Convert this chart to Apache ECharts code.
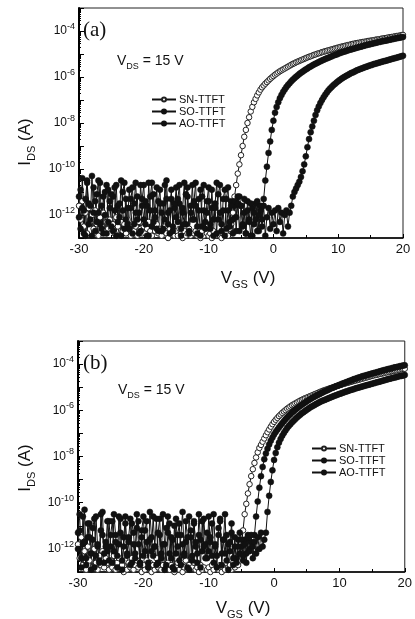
<!DOCTYPE html>
<html>
<head>
<meta charset="utf-8">
<script src="https://cdn.jsdelivr.net/npm/echarts@6/dist/echarts.min.js"></script>
<style>
  html, body { margin: 0; padding: 0; background: #fff; }
  #chart { width: 415px; height: 619px; }
</style>
</head>
<body>
<div id="chart"></div>
<script>
// gate sweep, V (0.25 V steps)
const VGS = [
  -30,-29.75,-29.5,-29.25,-29,-28.75,-28.5,-28.25,-28,-27.75,-27.5,-27.25,-27,-26.75,-26.5,-26.25,-26,-25.75,-25.5,-25.25,
  -25,-24.75,-24.5,-24.25,-24,-23.75,-23.5,-23.25,-23,-22.75,-22.5,-22.25,-22,-21.75,-21.5,-21.25,-21,-20.75,-20.5,-20.25,
  -20,-19.75,-19.5,-19.25,-19,-18.75,-18.5,-18.25,-18,-17.75,-17.5,-17.25,-17,-16.75,-16.5,-16.25,-16,-15.75,-15.5,-15.25,
  -15,-14.75,-14.5,-14.25,-14,-13.75,-13.5,-13.25,-13,-12.75,-12.5,-12.25,-12,-11.75,-11.5,-11.25,-11,-10.75,-10.5,-10.25,
  -10,-9.75,-9.5,-9.25,-9,-8.75,-8.5,-8.25,-8,-7.75,-7.5,-7.25,-7,-6.75,-6.5,-6.25,-6,-5.75,-5.5,-5.25,
  -5,-4.75,-4.5,-4.25,-4,-3.75,-3.5,-3.25,-3,-2.75,-2.5,-2.25,-2,-1.75,-1.5,-1.25,-1,-0.75,-0.5,-0.25,
  0,0.25,0.5,0.75,1,1.25,1.5,1.75,2,2.25,2.5,2.75,3,3.25,3.5,3.75,4,4.25,4.5,4.75,
  5,5.25,5.5,5.75,6,6.25,6.5,6.75,7,7.25,7.5,7.75,8,8.25,8.5,8.75,9,9.25,9.5,9.75,
  10,10.25,10.5,10.75,11,11.25,11.5,11.75,12,12.25,12.5,12.75,13,13.25,13.5,13.75,14,14.25,14.5,14.75,
  15,15.25,15.5,15.75,16,16.25,16.5,16.75,17,17.25,17.5,17.75,18,18.25,18.5,18.75,19,19.25,19.5,19.75,
  20
];

// log10(IDS / A), panel (a)
const SN_A = [
  -11.6,-12.2,-11.4,-12.5,-11.9,-12.8,-11.7,-12.3,-12.0,-12.6,-11.8,-12.4,-12.9,-12.1,-12.5,-11.9,-12.7,-12.3,-12.6,-12.2,
  -12.6,-12.4,-12.8,-12.1,-12.5,-12.9,-12.3,-12.7,-12.4,-12.8,-12.2,-12.6,-12.9,-12.4,-12.7,-12.5,-12.9,-12.3,-12.6,-12.8,
  -12.5,-12.8,-12.6,-12.3,-12.7,-12.9,-12.5,-12.7,-12.4,-12.8,-12.6,-12.9,-12.7,-12.5,-12.8,-13.0,-12.6,-12.8,-12.7,-12.9,
  -12.7,-12.9,-12.6,-12.8,-13.0,-12.7,-12.9,-12.8,-12.6,-12.9,-13.1,-12.8,-12.7,-12.9,-12.8,-13.0,-12.7,-12.9,-13.1,-12.8,
  -12.9,-12.8,-13.0,-12.7,-12.9,-13.1,-12.8,-12.9,-13.0,-12.8,-12.9,-12.7,-12.9,-12.6,-12.4,-11.9,-11.2,-10.7,-10.2,-9.8,
  -9.4,-9.0,-8.6,-8.3,-8.0,-7.75,-7.5,-7.3,-7.1,-6.95,-6.8,-6.67,-6.55,-6.45,-6.37,-6.29,-6.22,-6.15,-6.08,-6.02,
  -5.96,-5.9,-5.85,-5.8,-5.75,-5.71,-5.67,-5.63,-5.59,-5.55,-5.51,-5.47,-5.43,-5.4,-5.36,-5.33,-5.3,-5.27,-5.24,-5.21,
  -5.18,-5.15,-5.12,-5.10,-5.07,-5.04,-5.02,-4.99,-4.97,-4.95,-4.92,-4.90,-4.88,-4.86,-4.84,-4.82,-4.80,-4.78,-4.76,-4.74,
  -4.72,-4.70,-4.68,-4.67,-4.65,-4.63,-4.61,-4.60,-4.58,-4.56,-4.55,-4.53,-4.52,-4.51,-4.49,-4.48,-4.47,-4.46,-4.44,-4.43,
  -4.42,-4.41,-4.40,-4.38,-4.37,-4.36,-4.35,-4.33,-4.32,-4.31,-4.30,-4.28,-4.27,-4.26,-4.25,-4.23,-4.22,-4.21,-4.20,-4.18,
  -4.17
];
const SO_A = [
  -11.2,-12.6,-10.4,-11.8,-12.9,-10.6,-11.5,-12.2,-10.3,-11.9,-12.7,-11.1,-10.5,-12.4,-11.6,-12.8,-11.0,-10.7,-12.3,-11.4,
  -12.5,-11.2,-10.8,-12.9,-11.6,-12.1,-10.5,-11.8,-12.6,-11.3,-12.4,-10.9,-11.7,-12.8,-11.5,-10.6,-12.2,-11.9,-12.7,-11.3,
  -10.7,-12.4,-11.6,-12.9,-11.2,-10.6,-12.3,-11.8,-12.6,-11.4,-10.9,-12.7,-11.5,-12.2,-10.5,-11.9,-12.8,-11.3,-12.5,-11.7,
  -10.8,-12.3,-11.5,-12.9,-11.7,-10.6,-12.4,-11.2,-12.7,-11.9,-10.7,-12.2,-11.6,-12.8,-11.3,-10.9,-12.5,-11.8,-12.6,-11.4,
  -10.8,-12.4,-11.7,-12.9,-11.5,-10.6,-12.2,-11.9,-12.7,-11.3,-10.9,-12.6,-11.8,-12.3,-11.4,-12.8,-11.6,-12.1,-11.2,-12.7,
  -11.6,-12.5,-11.9,-12.8,-11.4,-12.2,-12.9,-11.7,-12.4,-11.5,-12.7,-12.0,-11.6,-12.2,-11.3,-10.5,-9.9,-9.3,-8.8,-8.3,
  -7.9,-7.55,-7.3,-7.1,-6.92,-6.78,-6.65,-6.54,-6.44,-6.35,-6.27,-6.19,-6.12,-6.05,-5.99,-5.93,-5.87,-5.82,-5.77,-5.72,
  -5.67,-5.63,-5.58,-5.54,-5.50,-5.46,-5.42,-5.39,-5.35,-5.32,-5.28,-5.25,-5.22,-5.19,-5.16,-5.13,-5.10,-5.07,-5.04,-5.02,
  -4.99,-4.96,-4.94,-4.91,-4.89,-4.87,-4.84,-4.82,-4.80,-4.78,-4.76,-4.74,-4.72,-4.70,-4.68,-4.66,-4.64,-4.62,-4.60,-4.59,
  -4.57,-4.55,-4.53,-4.52,-4.50,-4.48,-4.47,-4.45,-4.44,-4.42,-4.41,-4.39,-4.38,-4.36,-4.35,-4.33,-4.32,-4.30,-4.29,-4.27,
  -4.26
];
const AO_A = [
  -12.1,-10.9,-11.7,-12.8,-11.3,-10.5,-12.4,-11.6,-12.9,-10.8,-11.4,-12.3,-11.9,-10.6,-12.6,-11.2,-12.0,-12.8,-10.9,-11.7,
  -11.1,-12.7,-11.8,-10.7,-12.3,-11.5,-12.9,-11.0,-10.6,-12.2,-11.7,-12.6,-11.3,-10.8,-12.4,-11.9,-11.2,-12.8,-10.7,-11.6,
  -12.2,-11.4,-12.9,-10.6,-11.8,-12.5,-11.1,-12.1,-10.8,-12.7,-11.5,-11.9,-12.6,-10.7,-11.3,-12.4,-11.8,-10.9,-12.7,-11.5,
  -12.1,-11.3,-10.7,-12.6,-11.9,-12.4,-11.1,-10.8,-12.8,-11.6,-12.2,-11.4,-10.6,-12.5,-11.8,-12.9,-11.2,-10.7,-12.3,-11.9,
  -11.4,-12.6,-10.9,-12.2,-11.7,-12.8,-11.1,-10.7,-12.4,-11.8,-12.9,-11.3,-10.8,-12.5,-11.6,-12.2,-11.4,-12.7,-11.5,-11.2,
  -11.6,-12.4,-11.3,-12.8,-11.8,-12.3,-11.5,-12.9,-11.9,-12.2,-11.4,-12.7,-11.8,-12.5,-11.6,-12.9,-12.1,-11.7,-12.6,-11.9,
  -12.4,-11.8,-12.7,-11.7,-12.3,-11.9,-12.8,-12.0,-11.8,-12.5,-11.9,-11.6,-11.2,-11.0,-10.85,-10.7,-10.55,-10.35,-10.1,-9.8,
  -9.45,-9.05,-8.7,-8.4,-8.15,-7.9,-7.65,-7.45,-7.28,-7.13,-7.0,-6.88,-6.77,-6.67,-6.58,-6.5,-6.43,-6.36,-6.3,-6.24,
  -6.18,-6.13,-6.08,-6.03,-5.99,-5.95,-5.91,-5.87,-5.83,-5.8,-5.77,-5.73,-5.70,-5.67,-5.64,-5.62,-5.59,-5.56,-5.54,-5.51,
  -5.49,-5.47,-5.44,-5.42,-5.40,-5.38,-5.36,-5.34,-5.32,-5.30,-5.28,-5.26,-5.24,-5.22,-5.20,-5.18,-5.16,-5.14,-5.12,-5.10,
  -5.08
];

// log10(IDS / A), panel (b)
const SN_B = [
  -11.8,-12.4,-11.5,-12.7,-12.1,-12.9,-11.9,-12.5,-12.2,-12.8,-12.0,-12.6,-12.9,-12.3,-12.7,-12.1,-12.8,-12.4,-12.6,-12.9,
  -12.5,-12.8,-12.3,-12.9,-12.6,-12.4,-12.8,-12.7,-13.0,-12.5,-12.9,-12.6,-12.8,-12.4,-12.9,-12.7,-12.5,-12.8,-12.6,-13.0,
  -12.7,-12.9,-12.5,-12.8,-12.6,-13.0,-12.7,-12.9,-12.4,-12.8,-12.6,-12.9,-12.7,-13.1,-12.8,-12.6,-12.9,-12.7,-12.8,-13.0,
  -12.8,-12.6,-12.9,-12.7,-13.0,-12.8,-12.5,-12.9,-12.7,-13.1,-12.8,-12.6,-12.9,-12.8,-13.0,-12.7,-12.9,-12.8,-13.1,-12.9,
  -12.8,-13.0,-12.7,-12.9,-13.1,-12.8,-12.9,-12.7,-13.0,-12.8,-12.9,-13.1,-12.8,-12.7,-12.9,-12.6,-12.8,-12.4,-12.7,-12.2,
  -11.9,-11.2,-10.5,-10.05,-9.6,-9.2,-8.85,-8.55,-8.28,-8.04,-7.82,-7.63,-7.5,-7.36,-7.22,-7.08,-6.95,-6.83,-6.71,-6.6,
  -6.5,-6.41,-6.33,-6.25,-6.18,-6.11,-6.05,-5.99,-5.93,-5.88,-5.83,-5.78,-5.74,-5.70,-5.66,-5.62,-5.58,-5.55,-5.51,-5.48,
  -5.45,-5.42,-5.39,-5.36,-5.33,-5.30,-5.27,-5.24,-5.21,-5.18,-5.15,-5.13,-5.10,-5.08,-5.05,-5.03,-5.01,-4.98,-4.96,-4.94,
  -4.92,-4.90,-4.87,-4.85,-4.83,-4.81,-4.79,-4.77,-4.75,-4.73,-4.71,-4.69,-4.67,-4.65,-4.63,-4.61,-4.59,-4.57,-4.55,-4.53,
  -4.51,-4.49,-4.47,-4.46,-4.44,-4.42,-4.41,-4.39,-4.37,-4.36,-4.34,-4.33,-4.31,-4.30,-4.28,-4.27,-4.25,-4.24,-4.22,-4.21,
  -4.20
];
const SO_B = [
  -11.3,-10.5,-12.4,-11.8,-10.3,-12.7,-11.5,-10.9,-12.2,-11.6,-12.8,-10.6,-11.9,-12.5,-11.2,-10.4,-12.6,-11.7,-12.1,-10.8,
  -11.9,-12.6,-10.5,-11.4,-12.3,-11.8,-10.7,-12.9,-11.5,-10.6,-12.2,-11.7,-12.7,-10.9,-11.3,-12.4,-10.5,-11.8,-12.6,-11.2,
  -10.6,-12.1,-11.7,-12.8,-10.4,-11.5,-12.3,-11.9,-10.7,-12.6,-11.4,-12.2,-10.5,-11.8,-12.7,-11.3,-10.9,-12.4,-11.6,-12.9,
  -10.7,-11.9,-12.5,-11.4,-10.4,-12.2,-11.7,-12.8,-10.6,-11.5,-12.3,-10.8,-11.9,-12.6,-10.5,-11.6,-12.1,-10.7,-11.8,-12.4,
  -10.6,-11.7,-12.3,-10.5,-11.9,-12.8,-11.4,-10.7,-12.2,-11.6,-10.5,-12.5,-11.8,-12.1,-11.3,-12.7,-11.9,-12.4,-11.6,-12.2,
  -11.9,-12.5,-11.6,-12.2,-11.4,-12.0,-11.7,-11.9,-11.4,-10.6,-9.95,-9.35,-8.85,-8.45,-8.12,-7.87,-7.66,-7.48,-7.32,-7.18,
  -7.05,-6.94,-6.84,-6.74,-6.65,-6.56,-6.47,-6.39,-6.31,-6.24,-6.17,-6.1,-6.04,-5.98,-5.92,-5.86,-5.81,-5.76,-5.71,-5.66,
  -5.61,-5.57,-5.52,-5.48,-5.44,-5.40,-5.36,-5.33,-5.29,-5.25,-5.22,-5.18,-5.15,-5.12,-5.08,-5.05,-5.02,-4.99,-4.96,-4.93,
  -4.90,-4.87,-4.84,-4.82,-4.79,-4.76,-4.73,-4.71,-4.68,-4.65,-4.63,-4.60,-4.58,-4.56,-4.53,-4.51,-4.49,-4.47,-4.45,-4.43,
  -4.41,-4.39,-4.37,-4.35,-4.33,-4.31,-4.29,-4.27,-4.25,-4.23,-4.21,-4.20,-4.18,-4.16,-4.14,-4.13,-4.11,-4.09,-4.08,-4.06,
  -4.05
];
const AO_B = [
  -12.0,-11.2,-12.8,-10.6,-11.7,-12.4,-10.9,-11.5,-12.9,-11.1,-10.7,-12.3,-11.8,-12.6,-10.5,-11.4,-12.2,-11.9,-10.8,-12.5,
  -11.4,-10.8,-12.1,-11.7,-12.8,-10.6,-11.3,-12.5,-11.9,-10.9,-12.3,-11.5,-10.7,-12.6,-11.8,-12.2,-11.1,-10.8,-12.7,-11.5,
  -12.3,-11.2,-10.8,-12.6,-11.6,-12.1,-10.6,-11.9,-12.7,-11.3,-10.7,-12.4,-11.8,-12.9,-11.1,-10.6,-12.2,-11.5,-12.8,-11.0,
  -12.2,-11.4,-10.9,-12.7,-11.8,-12.3,-10.8,-11.5,-12.9,-11.2,-12.5,-10.9,-11.7,-12.2,-11.4,-12.8,-10.8,-11.9,-12.4,-11.3,
  -12.1,-11.5,-10.9,-12.6,-11.8,-12.3,-11.1,-10.8,-12.7,-11.6,-12.2,-11.4,-12.9,-11.7,-10.9,-12.4,-11.5,-12.6,-11.9,-11.3,
  -11.6,-12.3,-11.8,-12.6,-11.5,-12.1,-11.4,-12.4,-11.7,-12.2,-11.5,-12.0,-11.3,-11.9,-11.6,-11.3,-10.4,-9.7,-9.1,-8.6,
  -8.15,-7.85,-7.6,-7.4,-7.24,-7.1,-6.98,-6.87,-6.77,-6.68,-6.6,-6.52,-6.45,-6.38,-6.31,-6.25,-6.19,-6.13,-6.08,-6.03,
  -5.98,-5.93,-5.88,-5.84,-5.80,-5.76,-5.72,-5.68,-5.64,-5.61,-5.58,-5.55,-5.52,-5.49,-5.46,-5.43,-5.40,-5.37,-5.35,-5.32,
  -5.29,-5.27,-5.24,-5.22,-5.19,-5.17,-5.14,-5.12,-5.10,-5.08,-5.05,-5.03,-5.01,-4.99,-4.97,-4.95,-4.93,-4.91,-4.89,-4.87,
  -4.85,-4.83,-4.81,-4.79,-4.77,-4.75,-4.73,-4.71,-4.69,-4.67,-4.65,-4.63,-4.61,-4.59,-4.58,-4.56,-4.54,-4.52,-4.51,-4.49,
  -4.47
];

const NAMES = ['SN-TTFT', 'SO-TTFT', 'AO-TTFT'];
const X_MIN = -30, X_MAX = 20, X_STEP = 10;
const Y_MIN = 1e-13, Y_MAX = 1e-3;

const FONT = '"Liberation Sans", Arial, sans-serif';
const INK = '#111';

const chart = echarts.init(document.getElementById('chart'), null, { renderer: 'canvas' });

function pts(logI) {
  return VGS.map((v, i) => [v, Math.pow(10, logI[i])]);
}

function series(name, logI, idx, open) {
  return {
    name: name,
    type: 'line',
    xAxisIndex: idx,
    yAxisIndex: idx,
    data: pts(logI),
    symbol: 'circle',
    symbolSize: open ? 5.5 : 6,
    showAllSymbol: true,
    clip: true,
    lineStyle: { color: INK, width: 1 },
    itemStyle: open
      ? { color: '#fff', borderColor: '#222', borderWidth: 1 }
      : { color: INK, borderColor: INK, borderWidth: 0.5 },
    emphasis: { disabled: true }
  };
}

function xAxis(idx) {
  return {
    type: 'value', gridIndex: idx, min: X_MIN, max: X_MAX, interval: X_STEP,
    axisLine: { onZero: false, lineStyle: { color: '#000', width: 1.5 } },
    axisTick: { inside: true, length: 4, lineStyle: { color: '#000' } },
    minorTick: { show: true, splitNumber: 2, length: 3, lineStyle: { color: '#000' } },
    splitLine: { show: false },
    axisLabel: { fontSize: 13, color: INK, fontFamily: FONT, margin: 5 }
  };
}

function yAxis(idx) {
  return {
    type: 'log', logBase: 10, gridIndex: idx, min: Y_MIN, max: Y_MAX, splitNumber: 5,
    axisLine: { onZero: false, lineStyle: { color: '#000', width: 2 } },
    axisTick: { inside: true, length: 5, lineStyle: { color: '#000' } },
    minorTick: { show: true, splitNumber: 10, length: 2, lineStyle: { color: '#000' } },
    splitLine: { show: false },
    minorSplitLine: { show: false },
    axisLabel: {
      margin: 4,
      formatter: function (v) {
        const e = Math.round(Math.log10(v));
        return (e % 2 === 0 && e > -13 && e < -3) ? '{b|10}{s|' + e + '}' : '';
      },
      rich: {
        b: { fontSize: 12, color: INK, fontFamily: FONT },
        s: { fontSize: 9, color: INK, fontFamily: FONT, padding: [0, 0, 9, 0] }
      }
    }
  };
}

const subRich = {
  v: { fontSize: 17, fill: INK, fontFamily: FONT },
  d: { fontSize: 11, fill: INK, fontFamily: FONT, padding: [13, 0, 0, 0] }
};
const vdsRich = {
  v: { fontSize: 14, fill: INK, fontFamily: FONT },
  d: { fontSize: 9, fill: INK, fontFamily: FONT, padding: [11, 0, 0, 0] }
};

function label(x, y, text, rich, rot) {
  return {
    type: 'text', x: x, y: y, rotation: rot || 0, z: 100,
    style: { text: text, rich: rich, align: 'center', verticalAlign: 'middle', fill: INK }
  };
}

function legend(left, top) {
  return {
    data: NAMES, orient: 'vertical', left: left, top: top, itemGap: 1,
    itemWidth: 24, itemHeight: 5, selectedMode: false,
    textStyle: { fontSize: 11, color: INK, fontFamily: FONT, padding: [0, 0, 0, -2] }
  };
}

chart.setOption({
  animation: false,
  textStyle: { fontFamily: FONT },
  grid: [
    { left: 79, top: 8, width: 324, height: 230, show: true, borderColor: '#222', borderWidth: 1 },
    { left: 78, top: 341, width: 329, height: 231, show: true, borderColor: '#222', borderWidth: 1 }
  ],
  xAxis: [xAxis(0), xAxis(1)],
  yAxis: [yAxis(0), yAxis(1)],
  legend: [legend(146, 89), legend(306, 438)],
  graphic: [
    { type: 'text', left: 83, top: 20, z: 100,
      style: { text: '(a)', font: '21px "Liberation Serif", "Times New Roman", serif', fill: INK } },
    { type: 'text', left: 83, top: 353, z: 100,
      style: { text: '(b)', font: '21px "Liberation Serif", "Times New Roman", serif', fill: INK } },
    { type: 'text', left: 117, top: 54, z: 100,
      style: { text: '{v|V}{d|DS}{v| = 15 V}', rich: vdsRich } },
    { type: 'text', left: 118, top: 383, z: 100,
      style: { text: '{v|V}{d|DS}{v| = 15 V}', rich: vdsRich } },
    label(25, 142, '{v|I}{d|DS}{v| (A)}', subRich, Math.PI / 2),
    label(25, 468, '{v|I}{d|DS}{v| (A)}', subRich, Math.PI / 2),
    label(248, 278, '{v|V}{d|GS}{v| (V)}', subRich),
    label(243, 608, '{v|V}{d|GS}{v| (V)}', subRich)
  ],
  series: [
    series(NAMES[0], SN_A, 0, true),
    series(NAMES[1], SO_A, 0, false),
    series(NAMES[2], AO_A, 0, false),
    series(NAMES[0], SN_B, 1, true),
    series(NAMES[1], SO_B, 1, false),
    series(NAMES[2], AO_B, 1, false)
  ]
});
</script>
</body>
</html>
